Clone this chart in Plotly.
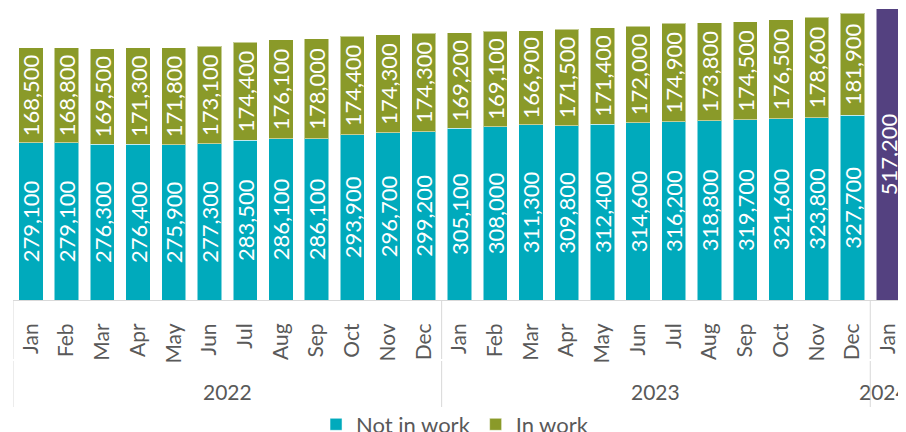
import plotly.graph_objects as go

months = ["Jan", "Feb", "Mar", "Apr", "May", "Jun", "Jul", "Aug", "Sep", "Oct", "Nov", "Dec",
          "Jan", "Feb", "Mar", "Apr", "May", "Jun", "Jul", "Aug", "Sep", "Oct", "Nov", "Dec",
          "Jan"]
years = ["2022"] * 12 + ["2023"] * 12 + ["2024"]

not_in_work = [279100, 279100, 276300, 276400, 275900, 277300, 283500, 286100, 286100, 293900, 296700, 299200,
               305100, 308000, 311300, 309800, 312400, 314600, 316200, 318800, 319700, 321600, 323800, 327700]
in_work = [168500, 168800, 169500, 171300, 171800, 173100, 174400, 176100, 178000, 174400, 174300, 174300,
           169200, 169100, 166900, 171500, 171400, 172000, 174900, 173800, 174500, 176500, 178600, 181900]
total_2024 = [517200]

FONT = "Lato"
GREY = "#595959"
LINE = "#d9d9d9"
TEAL = "#00AABC"
OLIVE = "#8A9A29"
PURPLE = "#544180"

n = len(months)
idx = list(range(n))
idx_split = idx[:len(not_in_work)]

fig = go.Figure()
common = dict(textposition="inside", insidetextanchor="middle", textangle=-90,
              constraintext="none", texttemplate="%{y:,.0f}",
              textfont=dict(family=FONT, size=22, color="white"),
              hoverinfo="skip")
edge = dict(color="rgba(255,255,255,0.5)", width=1)
fig.add_trace(go.Bar(x=idx_split, y=not_in_work, name="Not in work",
                     marker=dict(color=TEAL, line=edge), **common))
fig.add_trace(go.Bar(x=idx_split, y=in_work, name="In work",
                     marker=dict(color=OLIVE, line=edge), **common))
fig.add_trace(go.Bar(x=[idx[-1]], y=total_2024, name="Total", showlegend=False,
                     marker=dict(color=PURPLE, line=edge), **common))

# year group labels and dividers, computed from the years list
groups = []
for i, yv in enumerate(years):
    if not groups or groups[-1][0] != yv:
        groups.append([yv, i, i])
    else:
        groups[-1][2] = i

plot_h = 292
shapes = []
annotations = []
bounds = sorted(set([g[1] - 0.5 for g in groups] + [g[2] + 0.5 for g in groups]))
for b in bounds:
    for (y0, y1) in [(0, 59), (61, 107)]:
        shapes.append(dict(type="line", xref="x", yref="paper", x0=b, x1=b,
                           y0=-y0 / plot_h, y1=-y1 / plot_h,
                           line=dict(color=LINE, width=1)))
for gi, (yv, a, bb) in enumerate(groups):
    last = gi == len(groups) - 1
    annotations.append(dict(text=yv, x=(a + bb) / 2, xref="x", y=-91.5 / plot_h, yref="paper",
                            showarrow=False, yanchor="middle", xanchor="center",
                            xshift=-5 if last else 0,
                            font=dict(family=FONT, size=21, color=GREY)))

fig.update_layout(
    width=906, height=432,
    barmode="stack", bargap=0.32,
    margin=dict(l=5, r=8, t=0, b=140, autoexpand=False),
    paper_bgcolor="white", plot_bgcolor="white",
    font=dict(family=FONT, color=GREY),
    xaxis=dict(tickmode="array", tickvals=idx, ticktext=months, tickangle=-90,
               range=[-0.5, n - 0.5], showline=True, linecolor=LINE, linewidth=1,
               showgrid=False, zeroline=False, ticks="", ticklabelstandoff=14,
               tickfont=dict(family=FONT, size=21, color=GREY)),
    yaxis=dict(range=[0, 518600], visible=False, showgrid=False, zeroline=False),
    legend=dict(orientation="h", x=0.495, xanchor="center", y=-124.5 / plot_h, yanchor="middle",
                font=dict(family=FONT, size=22, color=GREY), bgcolor="rgba(0,0,0,0)",
                itemwidth=30, traceorder="normal"),
    shapes=shapes, annotations=annotations,
    showlegend=True,
)

fig.write_html("out.html")
